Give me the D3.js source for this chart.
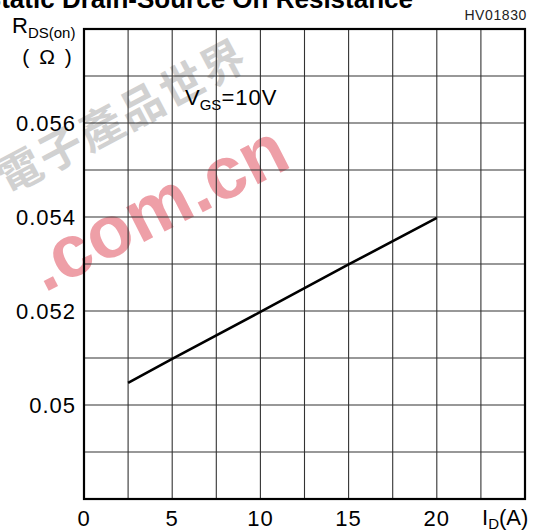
<!DOCTYPE html>
<meta charset="utf-8">
<html>
<head>
<script src="https://d3js.org/d3.v7.min.js"></script>
<style>
body { margin: 0; background: #fff; }
svg { display: block; font-family: "Liberation Sans", Arial, sans-serif; }
</style>
</head>
<body>
<svg width="534" height="531"></svg>
<script>

// drain current (A) and on-resistance (ohm)
var currentA = [2.5, 5, 10, 15, 20];
var rdsOn = [0.05047, 0.05098, 0.05198, 0.05299, 0.05398];

var xTicks = [0, 5, 10, 15, 20];
var yTicks = [0.05, 0.052, 0.054, 0.056];

var svg = d3.select("svg");

// plot box (pixels)
var pLeft = 84, pRight = 525, pTop = 29, pBottom = 499;

var x = d3.scaleLinear().domain([0, 25]).range([pLeft, pRight]);
var y = d3.scaleLinear().domain([0.048, 0.058]).range([pBottom, pTop]);

// watermark behind everything
var wm = svg.append("g");
wm.append("text")
    .attr("transform", "translate(124,120) rotate(-28)")
    .attr("text-anchor", "middle")
    .attr("dominant-baseline", "middle")
    .style("font-family", "'Noto Sans CJK TC', 'Noto Sans CJK SC', sans-serif")
    .style("font-size", "44px")
    .style("font-weight", "bold")
    .style("letter-spacing", "2px")
    .attr("fill", "#9a9a9a")
    .attr("opacity", 0.45)
    .text("電子產品世界");
wm.append("text")
    .attr("transform", "translate(160,212) rotate(-27)")
    .attr("text-anchor", "middle")
    .attr("dominant-baseline", "middle")
    .style("font-size", "74px")
    .style("font-weight", "bold")
    .attr("fill", "#e4606e")
    .attr("opacity", 0.6)
    .text(".com.cn");

// grid
var grid = svg.append("g");
grid.selectAll("line.v")
    .data(d3.range(2.5, 25, 2.5))
    .enter().append("line")
    .attr("x1", d => x(d)).attr("x2", d => x(d))
    .attr("y1", pTop).attr("y2", pBottom)
    .attr("stroke", "#333").attr("stroke-width", 1.1);
grid.selectAll("line.h")
    .data(d3.range(1, 10).map(i => 0.048 + i * 0.001))
    .enter().append("line")
    .attr("x1", pLeft).attr("x2", pRight)
    .attr("y1", d => y(d)).attr("y2", d => y(d))
    .attr("stroke", "#333").attr("stroke-width", 1.1);

svg.append("rect")
    .attr("x", pLeft).attr("y", pTop)
    .attr("width", pRight - pLeft).attr("height", pBottom - pTop)
    .attr("fill", "none").attr("stroke", "#000").attr("stroke-width", 2.2);

// curve
var line = d3.line()
    .x((d, i) => x(currentA[i]))
    .y(d => y(d));
svg.append("path")
    .datum(rdsOn)
    .attr("d", line)
    .attr("fill", "none")
    .attr("stroke", "#000")
    .attr("stroke-width", 2.6);

// tick labels
svg.selectAll("text.xt")
    .data(xTicks)
    .enter().append("text")
    .attr("x", d => x(d)).attr("y", 526)
    .attr("text-anchor", "middle")
    .style("font-size", "22px")
    .style("letter-spacing", "1px")
    .text(d => d);

svg.selectAll("text.yt")
    .data(yTicks)
    .enter().append("text")
    .attr("x", 76).attr("y", d => y(d) + 8)
    .attr("text-anchor", "end")
    .style("font-size", "22px")
    .style("letter-spacing", "1px")
    .text(d => d3.format("")(d));

// axis titles
var yl = svg.append("text").attr("x", 12).attr("y", 33).style("font-size", "22px");
yl.append("tspan").text("R");
yl.append("tspan").attr("dy", 5).style("font-size", "15px").text("DS(on)");
svg.append("text").attr("x", 48).attr("y", 64).attr("text-anchor", "middle")
    .style("font-size", "21px").style("letter-spacing", "2px").text("( Ω )");

var xl = svg.append("text").attr("x", 482).attr("y", 525).style("font-size", "22px");
xl.append("tspan").text("I");
xl.append("tspan").attr("dy", 4).style("font-size", "15px").text("D");
xl.append("tspan").attr("dy", -4).text("(A)");

var vg = svg.append("text").attr("x", 185).attr("y", 105).style("font-size", "22px");
vg.append("tspan").text("V");
vg.append("tspan").attr("dy", 5).style("font-size", "15px").text("GS");
vg.append("tspan").attr("dy", -5).style("letter-spacing", "1px").text("=10V");

// title, clipped by the top of the image
svg.append("text")
    .attr("x", 413).attr("y", 8)
    .attr("text-anchor", "end")
    .style("font-size", "26px")
    .style("font-weight", "bold")
    .text("Static Drain-Source On Resistance");

svg.append("text")
    .attr("x", 527).attr("y", 20)
    .attr("text-anchor", "end")
    .style("font-size", "14px")
    .style("letter-spacing", "0.6px")
    .attr("fill", "#222")
    .text("HV01830");

</script>
</body>
</html>
